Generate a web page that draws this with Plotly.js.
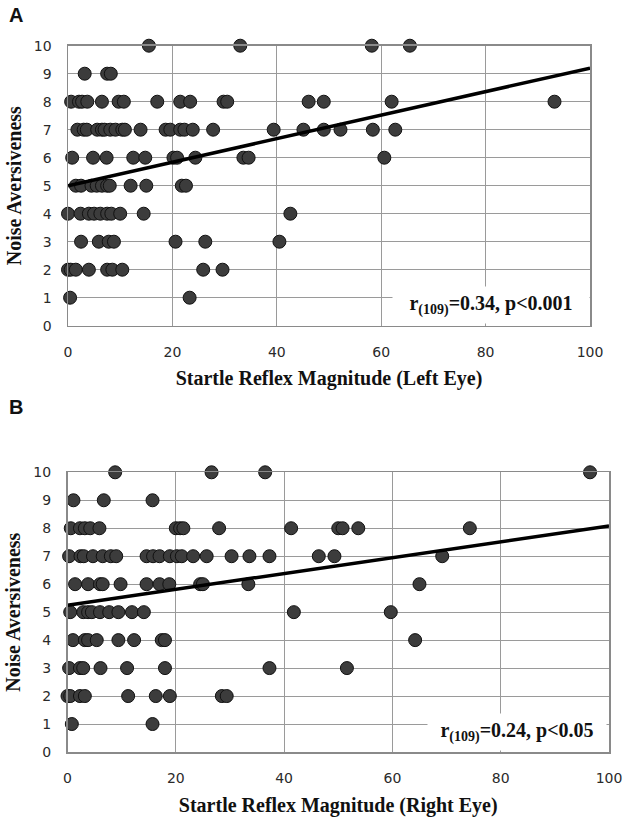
<!DOCTYPE html>
<html>
<head>
<meta charset="utf-8">
<script src="https://cdn.plot.ly/plotly-3.0.1.min.js"></script>
<style>
  html, body { margin: 0; padding: 0; background: #ffffff; }
  #chart { width: 630px; height: 821px; }
</style>
</head>
<body>
<div id="chart"></div>
<script>
// ---- Panel A: Left eye ----
const leftEyeX = [
  15.5, 33.0, 58.2, 65.5,
  3.2, 7.5, 8.2,
  0.6, 2.1, 2.7, 3.7, 6.5, 9.7, 10.7, 17.1, 21.5, 23.4, 29.8, 30.5, 46.1, 49.0, 62.0, 93.2,
  1.8, 3.0, 3.6, 5.6, 6.5, 7.0, 8.1, 9.1, 10.4, 10.9, 13.9, 18.7, 19.6, 21.5, 22.3, 23.9, 27.8, 39.4, 45.1, 49.0, 52.2, 58.4, 62.7,
  0.8, 4.8, 7.4, 12.5, 14.8, 20.2, 20.9, 24.4, 33.6, 34.6, 60.6,
  1.5, 2.5, 4.5, 5.5, 6.5, 7.5, 8.0, 12.0, 15.0, 21.8, 22.6,
  0, 2.4, 4.0, 5.0, 6.2, 7.5, 8.3, 10.0, 14.5, 42.6,
  2.5, 5.9, 7.8, 8.8, 20.6, 26.3, 40.5,
  0, 0.5, 1.5, 4.0, 7.5, 8.5, 10.4, 25.9, 29.6,
  0.4, 23.3
];
const leftNoise = [
  10, 10, 10, 10,
  9, 9, 9,
  8, 8, 8, 8, 8, 8, 8, 8, 8, 8, 8, 8, 8, 8, 8, 8,
  7, 7, 7, 7, 7, 7, 7, 7, 7, 7, 7, 7, 7, 7, 7, 7, 7, 7, 7, 7, 7, 7, 7,
  6, 6, 6, 6, 6, 6, 6, 6, 6, 6, 6,
  5, 5, 5, 5, 5, 5, 5, 5, 5, 5, 5,
  4, 4, 4, 4, 4, 4, 4, 4, 4, 4,
  3, 3, 3, 3, 3, 3, 3,
  2, 2, 2, 2, 2, 2, 2, 2, 2,
  1, 1
];
const fitX = [0, 100];
const leftFitY = [5.0, 9.2];
const leftStat = "r<sub>(109)</sub>=0.34, p&lt;0.001";

// ---- Panel B: Right eye ----
const rightEyeX = [
  8.8, 26.6, 36.5, 96.5,
  1.1, 6.7, 15.7,
  0.6, 2.3, 3.2, 4.2, 5.9, 20.0, 20.8, 21.4, 28.0, 41.3, 50.0, 50.8, 53.7, 74.3,
  0.3, 2.4, 3.0, 4.7, 6.5, 8.0, 9.0, 14.6, 15.8, 17.0, 18.9, 20.2, 21.1, 23.2, 25.7, 30.3, 33.6, 37.3, 46.4, 49.3, 69.2,
  1.4, 3.8, 6.0, 6.5, 9.8, 14.6, 17.0, 18.8, 24.5, 25.0, 33.4, 65.0,
  0.5, 2.9, 3.8, 4.5, 6.0, 7.7, 9.4, 11.9, 14.1, 41.8, 59.7,
  1.0, 3.2, 3.8, 5.4, 9.4, 12.3, 17.4, 18.0, 64.2,
  0.3, 2.3, 2.9, 6.1, 11.0, 18.0, 37.3, 51.6,
  0, 0.5, 2.3, 3.2, 11.2, 16.3, 18.9, 28.5, 29.4,
  0.8, 15.7
];
const rightNoise = [
  10, 10, 10, 10,
  9, 9, 9,
  8, 8, 8, 8, 8, 8, 8, 8, 8, 8, 8, 8, 8, 8,
  7, 7, 7, 7, 7, 7, 7, 7, 7, 7, 7, 7, 7, 7, 7, 7, 7, 7, 7, 7, 7,
  6, 6, 6, 6, 6, 6, 6, 6, 6, 6, 6, 6,
  5, 5, 5, 5, 5, 5, 5, 5, 5, 5, 5,
  4, 4, 4, 4, 4, 4, 4, 4, 4,
  3, 3, 3, 3, 3, 3, 3, 3,
  2, 2, 2, 2, 2, 2, 2, 2, 2,
  1, 1
];
const rightFitY = [5.25, 8.08];
const rightStat = "r<sub>(109)</sub>=0.24, p&lt;0.05";

const xTickVals = [0, 20, 40, 60, 80, 100];
const yTickVals = [0, 1, 2, 3, 4, 5, 6, 7, 8, 9, 10];
const xTitleA = "Startle Reflex Magnitude (Left Eye)";
const xTitleB = "Startle Reflex Magnitude (Right Eye)";
const yTitle = "Noise Aversiveness";

// ---- styles ----
const marker = { size: 13, color: '#3c3c3c', line: { color: '#111111', width: 1 } };
const serifBold = { family: 'Liberation Serif, Times New Roman, serif', size: 20, color: '#111111', weight: 'bold' };
const tickFont = { family: 'DejaVu Sans, Verdana, sans-serif', size: 14, color: '#2a2a2a' };
const gridGrey = '#9a9a9a';
const lineGrey = '#8a8a8a';
const clear = 'rgba(0,0,0,0)';

const traces = [
  { x: leftEyeX, y: leftNoise, xaxis: 'x', yaxis: 'y', type: 'scatter', mode: 'markers',
    marker: marker, cliponaxis: false, showlegend: false },
  { x: fitX, y: leftFitY, xaxis: 'x', yaxis: 'y', type: 'scatter', mode: 'lines',
    line: { color: '#000000', width: 3.5 }, cliponaxis: false, showlegend: false },
  { x: rightEyeX, y: rightNoise, xaxis: 'x2', yaxis: 'y2', type: 'scatter', mode: 'markers',
    marker: marker, cliponaxis: false, showlegend: false },
  { x: fitX, y: rightFitY, xaxis: 'x2', yaxis: 'y2', type: 'scatter', mode: 'lines',
    line: { color: '#000000', width: 3.5 }, cliponaxis: false, showlegend: false }
];

// main axes: grid, frame, labels (pushed away with transparent long ticks) and titles
function xAxis(domain, anchor, title) {
  return {
    domain: domain, anchor: anchor, range: [0, 100], tickvals: xTickVals,
    showgrid: true, gridcolor: gridGrey, gridwidth: 1, zeroline: false,
    showline: true, linecolor: lineGrey, linewidth: 1.5, mirror: true,
    ticks: 'outside', ticklen: 13, tickcolor: clear,
    tickfont: tickFont, automargin: true,
    title: { text: title, font: serifBold, standoff: 12 },
    fixedrange: true
  };
}
function yAxis(domain, anchor) {
  return {
    domain: domain, anchor: anchor, range: [0, 10], tickvals: yTickVals,
    showgrid: true, gridcolor: gridGrey, gridwidth: 1, zeroline: false,
    showline: true, linecolor: lineGrey, linewidth: 1.5, mirror: true,
    ticks: 'outside', ticklen: 12, tickcolor: clear,
    tickfont: tickFont, automargin: true,
    title: { text: yTitle, font: serifBold, standoff: 7 },
    fixedrange: true
  };
}
// overlay axes: only the short visible tick marks
function xTickAxis(over, anchor, len) {
  return {
    overlaying: over, anchor: anchor, range: [0, 100], tickvals: xTickVals,
    showgrid: false, zeroline: false, showline: false, showticklabels: false,
    ticks: 'outside', ticklen: len, tickcolor: lineGrey, tickwidth: 1.2, fixedrange: true
  };
}
function yTickAxis(over, anchor, len) {
  return {
    overlaying: over, anchor: anchor, range: [0, 10], tickvals: yTickVals,
    showgrid: false, zeroline: false, showline: false, showticklabels: false,
    ticks: 'outside', ticklen: len, tickcolor: lineGrey, tickwidth: 1.2, fixedrange: true
  };
}

const layout = {
  width: 630, height: 821,
  margin: { l: 0, r: 0, t: 0, b: 0, autoexpand: false },
  paper_bgcolor: '#ffffff', plot_bgcolor: '#ffffff',
  showlegend: false,
  xaxis: xAxis([68 / 630, 590 / 630], 'y', xTitleA),
  yaxis: yAxis([1 - 325.7 / 821, 1 - 45.7 / 821], 'x'),
  xaxis2: xAxis([67.5 / 630, 609 / 630], 'y2', xTitleB),
  yaxis2: yAxis([1 - 752 / 821, 1 - 472.3 / 821], 'x2'),
  xaxis3: xTickAxis('x', 'y', 5),
  yaxis3: yTickAxis('y', 'x', 7),
  xaxis4: xTickAxis('x2', 'y2', 5),
  yaxis4: yTickAxis('y2', 'x2', 7),
  annotations: [
    { text: 'A', xref: 'paper', yref: 'paper', x: 15.5 / 630, y: 1 - 15 / 821,
      xanchor: 'center', yanchor: 'middle', showarrow: false,
      font: { family: 'Liberation Sans, Arial, sans-serif', size: 20, color: '#111111', weight: 'bold' } },
    { text: 'B', xref: 'paper', yref: 'paper', x: 15.5 / 630, y: 1 - 407 / 821,
      xanchor: 'center', yanchor: 'middle', showarrow: false,
      font: { family: 'Liberation Sans, Arial, sans-serif', size: 20, color: '#111111', weight: 'bold' } },
    { text: leftStat, xref: 'x', yref: 'y', x: 62.1, y: 0.74, xanchor: 'left', yanchor: 'middle',
      showarrow: false, bgcolor: '#ffffff', width: 196, height: 36, align: 'center', borderpad: 0,
      font: serifBold },
    { text: rightStat, xref: 'x2', yref: 'y2', x: 66.4, y: 0.73, xanchor: 'left', yanchor: 'middle',
      showarrow: false, bgcolor: '#ffffff', width: 178, height: 36, align: 'center', borderpad: 0,
      font: serifBold }
  ]
};

Plotly.newPlot('chart', traces, layout, { displayModeBar: false, staticPlot: true });
</script>
</body>
</html>
